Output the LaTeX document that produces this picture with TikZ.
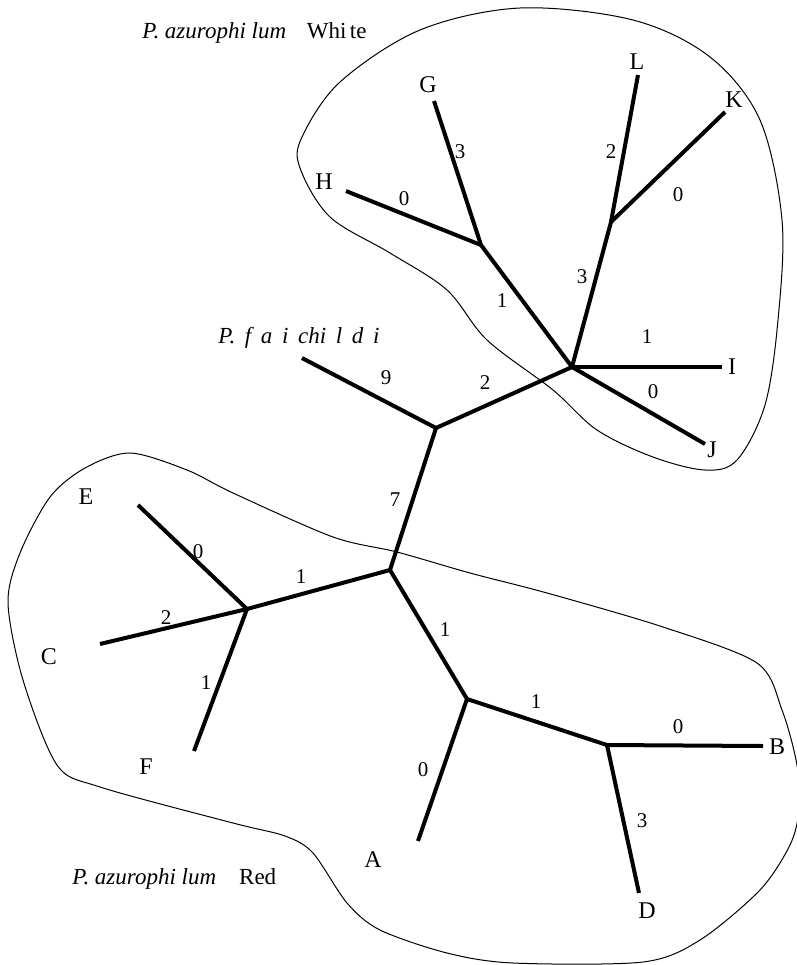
\documentclass[tikz,border=0pt]{standalone}
\usepackage{fontspec}
\setmainfont{Liberation Serif}
\usetikzlibrary{positioning}

\begin{document}
\begin{tikzpicture}[x=0.5pt, y=-0.5pt,
    branch/.style={line width=2pt},
    region/.style={line width=0.5pt},
    leaf/.style={font=\fontsize{12}{14}\selectfont, inner sep=0pt},
    blen/.style={font=\fontsize{10.5}{12}\selectfont, inner sep=0pt},
    taxon/.style={font=\fontsize{11.5}{13}\selectfont, inner sep=0pt, anchor=base west}]
    \useasboundingbox (0,0) rectangle (797,965);

    % White group outline
    \draw[region] plot[smooth cycle, tension=0.55] coordinates {
      (302,137) (340,82) (420,30) (520,8) (633,20) (710,57) (760,120)
      (782,220) (778,320) (765,405) (737,460) (705,470) (653,457)
      (597,430) (553,390) (487,340) (447,290) (390,253) (330,217) (300,168)};

    % Red group outline
    \draw[region] plot[smooth cycle, tension=0.5] coordinates {
      (397,552) (470,573) (547,593) (663,627) (757,663) (782,710) (797,765)
      (799,810) (790,845) (760,890) (700,940) (643,962) (513,963) (447,953)
      (380,930) (347,903) (313,853) (285,836) (233,823) (100,787) (57,765)
      (23,680) (8,603) (20,553) (50,497) (85,468) (130,453) (187,470)
      (233,493) (333,537)};

    % inner joints
    \coordinate (r1) at (390,570);
    \coordinate (r2) at (436,428);
    \coordinate (w1) at (572,367);
    \coordinate (w2) at (481,245);
    \coordinate (w3) at (611,222);
    \coordinate (d1) at (247,609);
    \coordinate (d2) at (467,699);
    \coordinate (d3) at (607,745);

    % branch tips
    \coordinate (tfc) at (302,358);
    \coordinate (tH) at (346,191);
    \coordinate (tG) at (434,101);
    \coordinate (tL) at (638,75);
    \coordinate (tK) at (725,112);
    \coordinate (tI) at (722,367);
    \coordinate (tJ) at (705,444);
    \coordinate (tE) at (138,505);
    \coordinate (tC) at (100,644);
    \coordinate (tF) at (194,751);
    \coordinate (tA) at (418,841);
    \coordinate (tB) at (763,746);
    \coordinate (tD) at (639,893);

    \foreach \a/\b in {r1/r2, r2/tfc, r2/w1, w1/w2, w2/tH, w2/tG, w1/w3, w3/tL,
        w3/tK, w1/tI, w1/tJ, r1/d1, d1/tE, d1/tC, d1/tF, r1/d2, d2/tA, d2/d3,
        d3/tB, d3/tD}
      \draw[branch] (\a) -- (\b);

    % taxa
    \foreach \nm/\x/\y in {H/324/182, G/428/85, L/637/62, K/734/100, I/732/367,
        J/712/450, E/86/497, C/49/657, F/146/767, A/373/860, B/777/747, D/647/911}
      \node[leaf] (\nm) at (\x,\y) {\nm};

    % branch lengths
    \foreach \nm/\x/\y/\t in {bfc/386/378/9, br2/485/383/2, br1/395/500/7,
        bw2/502/301/1, bH/404/199/0, bG/460/152/3, bw3/582/277/3, bL/611/152/2,
        bK/678/195/0, bI/647/337/1, bJ/653/392/0, bE/198/552/0, bC/166/618/2,
        bF/206/683/1, bd1/301/577/1, bd2/445/630/1, bd3/536/702/1, bB/678/727/0,
        bA/423/770/0, bD/642/821/3}
      \node[blen] (\nm) at (\x,\y) {\t};

    \node[taxon] (white) at (142,38) {\textit{P. azurophi lum}\hspace{0.9em}Whi\hspace{0.15em}te};
    \node[taxon] (fair) at (218,343) {\itshape\spaceskip=0.42em P. f a i chi l d i};
    \node[taxon] (red) at (72,884) {\textit{P. azurophi lum}\hspace{1em}Red};
\end{tikzpicture}
\end{document}
